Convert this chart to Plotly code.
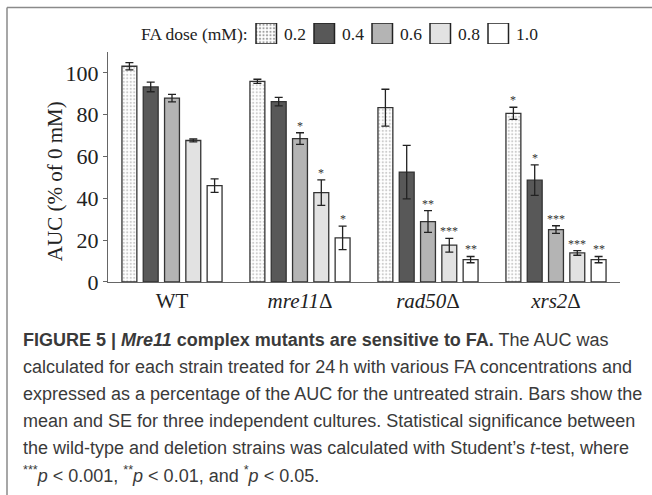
import plotly.graph_objects as go

strains = ["WT", "<i>mre11</i>Δ", "<i>rad50</i>Δ", "<i>xrs2</i>Δ"]
doses = ["0.2", "0.4", "0.6", "0.8", "1.0"]
means = {
    "0.2": [103.2, 96.0, 83.4, 80.7],
    "0.4": [93.3, 86.3, 52.6, 48.7],
    "0.6": [88.0, 68.6, 28.9, 25.1],
    "0.8": [67.7, 42.8, 17.6, 13.9],
    "1.0": [46.1, 21.1, 10.7, 10.7],
}
errors = {
    "0.2": [1.7, 1.0, 8.8, 2.9],
    "0.4": [2.3, 2.0, 12.8, 7.3],
    "0.6": [1.8, 2.8, 5.2, 1.8],
    "0.8": [0.7, 6.1, 3.3, 1.1],
    "1.0": [3.2, 5.6, 1.5, 1.5],
}
stars = {
    "0.2": ["", "", "", "*"],
    "0.4": ["", "", "", "*"],
    "0.6": ["", "*", "**", "***"],
    "0.8": ["", "*", "***", "***"],
    "1.0": ["", "*", "**", "**"],
}
fills = {"0.2": "white", "0.4": "#585858", "0.6": "#b4b4b4", "0.8": "#e2e2e2", "1.0": "white"}
legend_title = "FA dose (mM):"
y_title = "AUC (% of 0 mM)"

caption = [
    "<b>FIGURE 5 | <i>Mre11</i> complex mutants are sensitive to FA.</b> The AUC was",
    "calculated for each strain treated for 24\u2009h with various FA concentrations and",
    "expressed as a percentage of the AUC for the untreated strain. Bars show the",
    "mean and SE for three independent cultures. Statistical significance between",
    "the wild-type and deletion strains was calculated with Student\u2019s <i>t</i>-test, where",
    "<sup>***</sup><i>p</i> < 0.001, <sup>**</sup><i>p</i> < 0.01, and <sup>*</sup><i>p</i> < 0.05.",
]

W, H = 652, 495
L, R, T, B = 108, 620, 10, 281.7      # paper area (pixels)
PLOT_TOP = 52                          # top of the main y axis
pw, ph = R - L, B - T

def px(x):
    return (x - L) / pw

def py(y):
    return (B - y) / ph

LINE = "#333333"
fig = go.Figure()
for d in doses:
    marker = dict(color=fills[d], line=dict(color=LINE, width=1.3))
    if d == "0.2":
        marker["pattern"] = dict(shape=".", fgcolor="#9a9a9a", bgcolor="white", size=3.5, solidity=0.3)
    fig.add_trace(go.Bar(
        name=d, x=strains, y=means[d],
        error_y=dict(type="data", array=errors[d], color="#222222", thickness=1.3, width=4),
        marker=marker, offsetgroup=d, showlegend=False,
    ))

# legend swatches drawn as a small bar trace on its own axes
SW_X0, SW_STEP, SW_W = 256, 58, 20.5
SW_TOP, SW_BOT = 23, 44
fig.add_trace(go.Bar(
    x=doses, y=[1] * len(doses), xaxis="x2", yaxis="y2", width=SW_W / SW_STEP,
    marker=dict(color=[fills[d] for d in doses], line=dict(color="#222222", width=1.5),
                pattern=dict(shape=["." if d == "0.2" else "" for d in doses],
                             fgcolor="#9a9a9a", bgcolor="white", size=3.5, solidity=0.3)),
    showlegend=False, hoverinfo="skip",
))
c0 = SW_X0 + SW_W / 2
fig.update_layout(
    xaxis2=dict(domain=[px(c0 - SW_STEP / 2), px(c0 + SW_STEP * (len(doses) - 0.5))],
                range=[-0.5, len(doses) - 0.5], visible=False, anchor="y2"),
    yaxis2=dict(domain=[py(SW_BOT), py(SW_TOP)], range=[0, 1], visible=False, anchor="x2"),
)

fig.update_layout(
    width=W, height=H, barmode="group", bargap=0.168, bargroupgap=0.3,
    plot_bgcolor="white", paper_bgcolor="white",
    margin=dict(l=L, r=W - R, t=T, b=H - B, pad=0),
    font=dict(family="Liberation Serif", color="#222222"),
)
fig.update_xaxes(selector=dict(anchor="y"), showline=True, linecolor="#666666", linewidth=1.3, ticks="",
                 tickfont=dict(size=21, family="Liberation Serif", color="#222222"), showgrid=False, zeroline=False)
fig.update_layout(
    xaxis=dict(showline=True, linecolor="#666666", linewidth=1.3, ticks="",
               tickfont=dict(size=21, family="Liberation Serif", color="#222222"),
               showgrid=False, zeroline=False),
    yaxis=dict(domain=[0, py(PLOT_TOP)], range=[0, 110], showline=True, linecolor="#666666", linewidth=1.3,
               ticks="outside", ticklen=4, tickcolor="#666666", tickwidth=1.2,
               tickvals=[0, 20, 40, 60, 80, 100], showgrid=False, zeroline=False,
               tickfont=dict(size=22, family="Liberation Serif", color="#222222")),
)

ann = []
# legend text
ann.append(dict(x=px(139), y=py(34), xref="paper", yref="paper", text=legend_title, showarrow=False,
                xanchor="left", yanchor="middle", font=dict(size=17.5, family="Liberation Serif", color="#222222")))
for i, d in enumerate(doses):
    ann.append(dict(x=px(SW_X0 + SW_W + 5 + SW_STEP * i), y=py(34), xref="paper", yref="paper", text=d,
                    showarrow=False, xanchor="left", yanchor="middle",
                    font=dict(size=17.5, family="Liberation Serif", color="#222222")))
# y axis title
ann.append(dict(x=px(55), y=py(181), xref="paper", yref="paper", text=y_title, textangle=-90,
                showarrow=False, xanchor="center", yanchor="middle",
                font=dict(size=21, family="Liberation Serif", color="#222222")))

# significance stars
for di, d in enumerate(doses):
    for si, s in enumerate(strains):
        if stars[d][si]:
            ann.append(dict(x=s, y=means[d][si] + errors[d][si], xref="x", yref="y",
                            text=stars[d][si], showarrow=False, yanchor="bottom",
                            xshift=(di - 2) * 21.3, yshift=-2,
                            font=dict(size=12, family="Liberation Serif", color="#333333")))

# caption lines
cap_y = [340, 367, 394, 421, 448, 474]
for i, line in enumerate(caption):
    ann.append(dict(x=px(21), y=py(cap_y[i]), xref="paper", yref="paper", text=line,
                    showarrow=False, xanchor="left", yanchor="middle", align="left",
                    font=dict(size=18, family="Liberation Sans", color="#3a3a3a")))
fig.update_layout(annotations=ann)

# frame lines
fig.add_shape(type="line", xref="paper", yref="paper", x0=px(7), x1=px(652), y0=py(7.5), y1=py(7.5),
              line=dict(color="#8a8a8a", width=1.5))
fig.add_shape(type="line", xref="paper", yref="paper", x0=px(7), x1=px(7), y0=py(7.5), y1=py(495),
              line=dict(color="#8a8a8a", width=1.5))

fig.write_html("out.html")
